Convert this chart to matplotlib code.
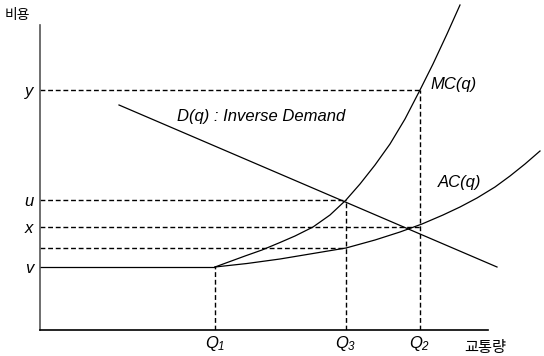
import matplotlib
matplotlib.use("Agg")
import matplotlib.pyplot as plt

plt.rcParams['font.family'] = ['Liberation Sans', 'Noto Sans CJK KR', 'DejaVu Sans']
plt.rcParams['mathtext.fontset'] = 'custom'
plt.rcParams['mathtext.it'] = 'Liberation Sans:italic'
plt.rcParams['mathtext.rm'] = 'Liberation Sans:italic'

# 수량 (교통량) 위치
Q1, Q3, Q2 = 175, 306, 380
# 비용 수준
v_level, low_level, x_level, u_level, y_level = 63, 82, 103, 130, 240

# MC(q) 곡선 (그림에서 읽은 점)
mc_q = [175, 190, 205, 222, 240, 255, 273, 290, 306, 320, 335, 350, 365, 380, 393, 407, 420]
mc_c = [63, 68.5, 74, 80, 87.5, 94, 103, 115, 130, 146, 165, 186, 211, 240, 266, 296, 325]

# AC(q) 곡선
ac_q = [175, 207, 240, 273, 306, 335, 360, 382, 403, 420, 437, 455, 470, 485, 500]
ac_c = [63, 66.5, 71, 76.5, 82, 90, 98, 106, 115, 123, 132, 143, 154, 166, 179]

# D(q) 역수요
d_q = [79, 457]
d_c = [225, 63]

fig = plt.figure(figsize=(5.44, 3.56), dpi=100)
ax = fig.add_axes([40 / 544, 26 / 356, 504 / 544, 330 / 356])
ax.set_xlim(0, 504)
ax.set_ylim(0, 330)

# 축
ax.spines['top'].set_visible(False)
ax.spines['right'].set_visible(False)
ax.spines['left'].set_bounds(0, 305)
ax.spines['bottom'].set_bounds(0, 448)
ax.spines['left'].set_color('#555555')
ax.spines['left'].set_linewidth(1.2)
ax.spines['bottom'].set_linewidth(1.2)

ax.set_yticks([v_level, x_level, u_level, y_level])
ax.set_yticklabels(['v', 'x', 'u', 'y'], fontstyle='italic', fontsize=12)
ax.set_xticks([Q1, Q3, Q2])
ax.set_xticklabels([r'$Q_{1}$', r'$Q_{3}$', r'$Q_{2}$'], fontsize=12)
ax.tick_params(axis='y', length=0, pad=5)
ax.tick_params(axis='x', length=0, pad=3)

# 곡선
ax.plot(mc_q, mc_c, color='black', lw=0.9)
ax.plot(ac_q, ac_c, color='black', lw=0.9)
ax.plot(d_q, d_c, color='black', lw=0.9)
ax.plot([0, Q1], [v_level, v_level], color='black', lw=0.9)

# 점선
dash = dict(color='black', lw=1.0, linestyle=(0, (3.5, 2)))
ax.plot([0, Q3], [low_level, low_level], **dash)
ax.plot([0, Q2 + 2], [x_level, x_level], **dash)
ax.plot([0, Q3], [u_level, u_level], **dash)
ax.plot([0, Q2], [y_level, y_level], **dash)
ax.plot([Q1, Q1], [0, v_level], **dash)
ax.plot([Q3, Q3], [0, u_level], **dash)
ax.plot([Q2, Q2], [0, y_level], **dash)

# 라벨
ax.text(390, 245, 'MC(q)', fontsize=12, fontstyle='italic', va='center', ha='left')
ax.text(398, 147, 'AC(q)', fontsize=12, fontstyle='italic', va='center', ha='left')
ax.text(137, 213, 'D(q) : Inverse Demand', fontsize=12, fontstyle='italic', va='center', ha='left')
ax.text(-23, 315, '비용', fontsize=10, va='center', ha='center', clip_on=False)
ax.text(445, -18, '교통량', fontsize=11, va='center', ha='center', clip_on=False)

fig.savefig('out.png', dpi=100)
